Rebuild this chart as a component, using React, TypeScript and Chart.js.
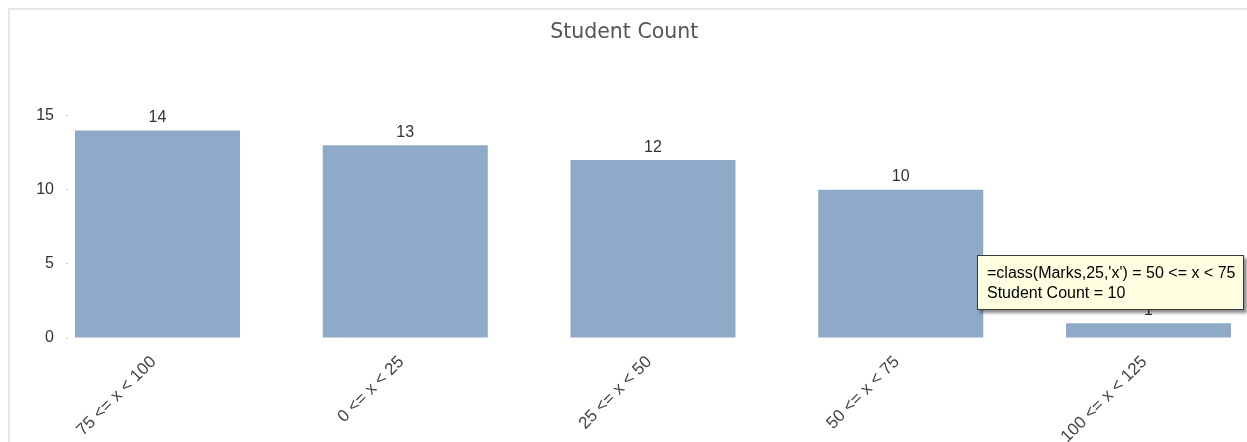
import React, { useEffect, useRef } from "react";
import { Chart, registerables } from "chart.js";

Chart.register(...registerables);

// ---- data ----
const categories = ["75 <= x < 100", "0 <= x < 25", "25 <= x < 50", "50 <= x < 75", "100 <= x < 125"];
const studentCounts = [14, 13, 12, 10, 1];
const yTickValues = [0, 5, 10, 15];
const chartTitle = "Student Count";
const hoveredIndex = 3;
const tooltipLines = [
  `=class(Marks,25,'x') = ${categories[hoveredIndex]}`,
  `${chartTitle} = ${studentCounts[hoveredIndex]}`,
];

const FONT = '"Liberation Sans", Arial, sans-serif';

const valueLabels = {
  id: "valueLabels",
  afterDatasetsDraw(chart: any) {
    const ctx = chart.ctx;
    const meta = chart.getDatasetMeta(0);
    ctx.save();
    ctx.font = `16px ${FONT}`;
    ctx.fillStyle = "#333333";
    ctx.textAlign = "center";
    ctx.textBaseline = "alphabetic";
    meta.data.forEach((bar: any, i: number) => {
      ctx.fillText(String(studentCounts[i]), bar.x, bar.y - 8.5);
    });
    ctx.restore();
  },
};

export default function App() {
  const canvasRef = useRef<HTMLCanvasElement | null>(null);

  useEffect(() => {
    if (!canvasRef.current) return;
    const chart = new Chart(canvasRef.current, {
      type: "bar",
      data: {
        datasets: [
          {
            label: chartTitle,
            data: studentCounts.map((y, x) => ({ x, y })),
            backgroundColor: "#8eaac9",
            borderWidth: 0,
            barPercentage: 0.666,
            categoryPercentage: 1,
          },
        ],
      },
      options: {
        animation: false,
        responsive: false,
        events: [],
        layout: { padding: { left: 0, right: 8.5, top: 0, bottom: 0 } },
        plugins: {
          legend: { display: false },
          tooltip: { enabled: false },
          title: {
            display: true,
            text: chartTitle,
            color: "#555555",
            font: { family: '"DejaVu Sans", sans-serif', size: 20.5, weight: "normal" },
            padding: { top: 10, bottom: 71 },
          },
        },
        scales: {
          x: {
            type: "linear",
            offset: false,
            min: -0.3613,
            max: 4.3633,
            grid: { display: false, offset: false },
            border: { display: false },
            afterBuildTicks: (scale: any) => {
              scale.ticks = categories.map((_, i) => ({ value: i }));
            },
            afterFit: (scale: any) => {
              scale.height = 104;
            },
            ticks: {
              autoSkip: false,
              maxRotation: 45,
              minRotation: 45,
              padding: 6,
              labelOffset: -4,
              color: "#444444",
              font: { family: FONT, size: 17 },
              callback: (v: any) => categories[v] ?? "",
            },
          },
          y: {
            min: 0,
            max: 15,
            grid: {
              display: true,
              drawOnChartArea: false,
              drawTicks: true,
              tickLength: 2,
              color: "#c8c8c8",
            },
            border: { display: false },
            afterBuildTicks: (scale: any) => {
              scale.ticks = yTickValues.map((v) => ({ value: v }));
            },
            afterFit: (scale: any) => {
              scale.width = 58;
            },
            ticks: {
              padding: 12,
              color: "#333333",
              font: { family: FONT, size: 16 },
            },
          },
        },
      } as any,
      plugins: [valueLabels],
    });
    return () => chart.destroy();
  }, []);

  return (
    <div style={{ position: "absolute", left: 0, top: 0, width: 1247, height: 442, overflow: "hidden", background: "#ffffff" }}>
      <div
        style={{
          position: "absolute",
          left: 8,
          top: 8,
          width: 1239,
          height: 434,
          boxSizing: "border-box",
          borderTop: "2px solid #e8e8e8",
          borderLeft: "2px solid #e8e8e8",
        }}
      />
      <canvas
        ref={canvasRef}
        width={1237}
        height={432}
        style={{ position: "absolute", left: 10, top: 10, width: 1237, height: 432 }}
      />
      <div
        style={{
          position: "absolute",
          left: 977,
          top: 255,
          width: 267,
          height: 55,
          boxSizing: "border-box",
          background: "#ffffe1",
          border: "1px solid #3a3a3a",
          boxShadow: "3px 3px 3px rgba(0,0,0,0.45)",
          padding: "7px 0 0 9px",
          font: `16px ${FONT}`,
          lineHeight: "20px",
          color: "#000000",
          whiteSpace: "nowrap",
        }}
      >
        {tooltipLines.map((t, i) => (
          <div key={i}>{t}</div>
        ))}
      </div>
    </div>
  );
}
